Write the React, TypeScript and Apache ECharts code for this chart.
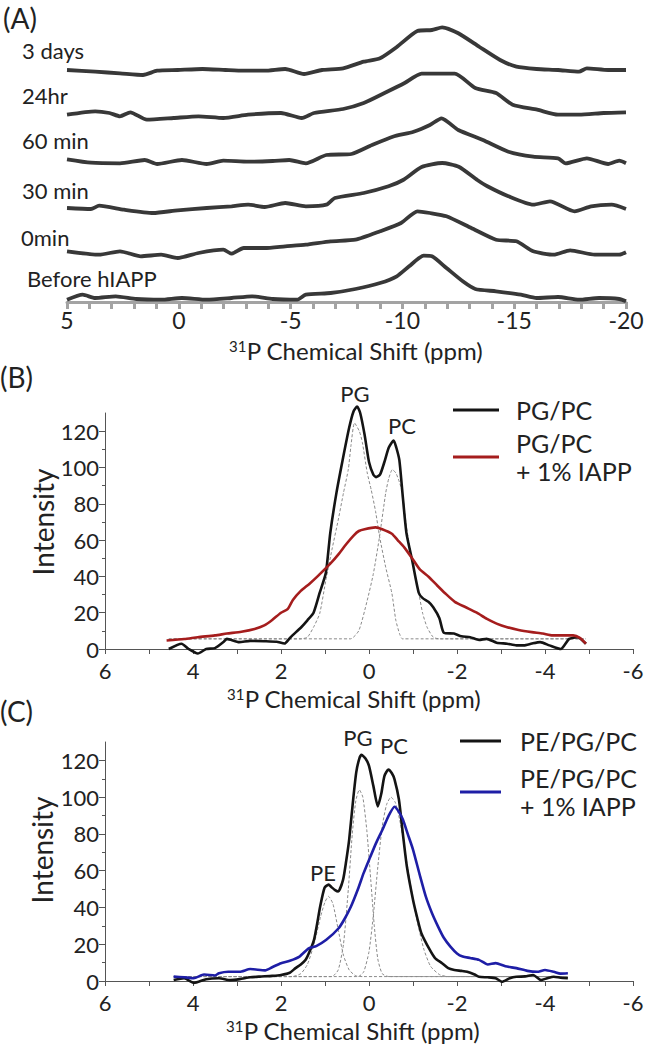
import React, { useEffect, useRef } from 'react';
import * as echarts from 'echarts';

const FONT = 'Lato, "Open Sans", sans-serif';
const TXT = '#222';

// ---------- Panel A: stacked 31P spectra (ppm, intensity above own baseline) ----------
const stackLabels = ['3 days', '24hr', '60 min', '30 min', '0min', 'Before hIAPP'];
const stackOffsets = [232, 189, 142, 94, 49, 4];
const panelATickLabels = [5, 0, -5, -10, -15, -20];

const trace3days = [[5, 0], [3.74, -1.7], [2.63, -3.3], [1.6, -5], [0.97, -0.7], [0.05, 0], [-1.06, 1], [-2.08, 0], [-2.9, -0.7], [-3.84, -0.7], [-4.76, 1], [-5.6, -4], [-6.4, 0], [-7.35, 1.7], [-8.27, 8.3], [-9.0, 11.7], [-9.75, 23], [-10.67, 39], [-11.32, 40], [-11.78, 42.7], [-12.5, 36.7], [-13.45, 23], [-14.37, 10], [-15.1, 3.3], [-16.0, 1], [-16.96, 0], [-17.9, -1.7], [-18.25, 1.7], [-19.2, 0], [-20, 0]];
const trace24hr = [[5, -1.7], [3.74, 1.7], [3.1, 0], [2.63, -3.3], [2.17, 0.7], [1.43, -6.7], [0.23, -5], [-0.88, -3.3], [-1.99, -5], [-3.1, -1.7], [-4.57, 0], [-5.5, -5], [-6.05, 0], [-7.35, 4], [-8.27, 10], [-9.2, 20], [-10.1, 30], [-10.86, 39.3], [-12.34, 39.3], [-13.26, 25], [-14.19, 20], [-14.93, 8.3], [-16.03, 3.3], [-16.96, -1.7], [-17.9, -1.7], [-19.0, 0], [-20, 0.7]];
const trace60min = [[5, 0.7], [3.93, -2.7], [2.63, -3.3], [1.52, 0], [0.97, -4], [-0.14, 0], [-1.25, -4], [-1.99, -0.7], [-3.1, -1.7], [-4.2, -1], [-4.94, 0], [-5.68, -3.3], [-6.6, 5], [-7.72, 6], [-8.64, 15], [-9.57, 23.3], [-10.5, 28.3], [-11.23, 35], [-11.75, 41.7], [-12.5, 30], [-13.6, 20], [-14.74, 8.3], [-15.85, 3.3], [-16.96, 1.7], [-17.3, -3.3], [-18.25, 1.7], [-19.2, -4], [-19.7, -0.7], [-20, -3.3]];
const trace30min = [[5, 0], [3.93, -1], [3.56, 2.3], [2.45, -1.7], [1.15, -5], [0.05, -2.3], [-1.25, 0], [-2.36, 1.7], [-3.1, 3.3], [-3.84, 1], [-4.76, 5], [-5.68, 1.7], [-6.6, 3.3], [-6.98, 10], [-8.27, 15], [-9.38, 21.7], [-10.03, 28], [-10.86, 41], [-11.78, 45], [-12.52, 41.3], [-13.35, 28], [-13.8, 21.7], [-14.74, 11.7], [-15.85, 3.3], [-16.6, 6.7], [-17.7, -3.3], [-18.44, 1.7], [-19.36, 3.3], [-20, -1]];
const trace0min = [[5, 1.7], [3.56, -1.7], [2.63, 1.7], [1.7, -3.3], [0.79, -1.7], [0.05, -5], [-0.88, 0], [-1.99, 3.3], [-2.36, -0.7], [-2.9, 5], [-3.84, 5], [-4.76, 6.7], [-5.68, 8.3], [-6.79, 11.7], [-7.9, 13.3], [-9.0, 21.7], [-9.94, 30], [-10.67, 41.7], [-11.23, 40], [-11.97, 36.7], [-13.08, 25], [-14.19, 13.3], [-15.1, 11.7], [-15.85, 1.7], [-16.77, -1.7], [-17.5, 2.7], [-18.6, -1.7], [-19.7, -1.7], [-20, 0.7]];
const traceBefore = [[5, -1.7], [4.3, 3.3], [3.74, 0], [2.82, 1.7], [1.9, -1], [0.79, -1.7], [-0.14, 0], [-1.25, -1.7], [-2.36, 0], [-3.28, 1.7], [-4.2, -1], [-5.3, -1.7], [-5.68, 3.3], [-6.79, 5], [-7.9, 9], [-9.0, 15], [-9.75, 21.7], [-10.3, 31.7], [-10.95, 42.3], [-11.32, 41.7], [-11.97, 30], [-12.7, 16.7], [-13.26, 9], [-14.19, 6.7], [-15.3, 3.3], [-16.0, 0], [-16.96, 1], [-17.9, -1.7], [-18.8, 0], [-19.7, -1], [-20, -3.3]];
const stackTraces = [trace3days, trace24hr, trace60min, trace30min, trace0min, traceBefore];

// ---------- Panel B: PG/PC ----------
const pgpcB = [[4.55, 0], [4.26, 2.9], [4.1, 0], [3.89, -2.5], [3.7, 0], [3.5, 0.5], [3.3, 4], [3.23, 5.6], [2.95, 3.8], [2.7, 4.5], [2.38, 4.3], [2.1, 4], [1.92, 3], [1.8, 6], [1.74, 7.5], [1.54, 12], [1.4, 15.8], [1.26, 20], [1.12, 31], [0.98, 42], [0.88, 64], [0.74, 86], [0.6, 104], [0.45, 122], [0.35, 131], [0.27, 133.5], [0.2, 130], [0.1, 118], [0.0, 103], [-0.1, 96], [-0.16, 94.7], [-0.25, 96], [-0.35, 103], [-0.45, 111], [-0.56, 114.8], [-0.62, 111], [-0.69, 104], [-0.76, 86], [-0.85, 64], [-0.98, 49], [-1.13, 31], [-1.22, 28], [-1.35, 26], [-1.46, 23], [-1.6, 17], [-1.7, 9], [-1.93, 8.5], [-2.1, 7], [-2.3, 6.5], [-2.5, 5], [-2.67, 5.6], [-2.9, 3.5], [-3.14, 2.9], [-3.35, 2], [-3.52, 2], [-3.7, 3], [-3.89, 3.8], [-4.1, 2], [-4.36, 0], [-4.55, 5.6], [-4.74, 6.5], [-4.93, 2.9]];
const pgpcIappB = [[4.6, 4.7], [4.2, 5.5], [3.89, 6.5], [3.5, 7.5], [3.23, 8.5], [2.9, 9.5], [2.6, 11], [2.38, 13], [2.2, 16], [2.0, 20], [1.85, 22], [1.73, 27], [1.55, 32], [1.35, 36], [1.17, 40], [0.88, 47], [0.7, 52], [0.51, 58], [0.35, 62.5], [0.23, 65], [0.1, 66], [-0.15, 67], [-0.3, 66], [-0.52, 63.5], [-0.65, 60], [-0.8, 56], [-0.98, 50], [-1.15, 44], [-1.36, 39.7], [-1.55, 35], [-1.73, 30.7], [-1.95, 26], [-2.2, 23], [-2.45, 20], [-2.67, 16.7], [-2.9, 14], [-3.14, 12], [-3.4, 10.5], [-3.7, 9.3], [-3.95, 8.5], [-4.17, 7.5], [-4.4, 7.5], [-4.64, 7.5], [-4.8, 6], [-4.93, 2.9]];
const pgFitB = [[4.55, 5.6], [1.55, 5.6], [1.4, 6.5], [1.26, 12], [1.12, 19.6], [0.98, 38], [0.84, 55], [0.7, 71], [0.58, 86], [0.47, 99], [0.41, 112], [0.33, 124.5], [0.22, 120], [0.15, 113.7], [0.04, 97], [-0.05, 87.7], [-0.15, 75.7], [-0.24, 62], [-0.38, 45], [-0.52, 30.7], [-0.61, 15.8], [-0.7, 8], [-0.76, 5.6], [-4.93, 5.6]];
const pcFitB = [[4.55, 5.6], [0.42, 5.6], [0.23, 10.2], [0.04, 26.8], [-0.1, 41.6], [-0.24, 62], [-0.38, 86], [-0.45, 94], [-0.53, 98.8], [-0.61, 97], [-0.69, 92], [-0.76, 86], [-0.85, 67.4], [-0.98, 49], [-1.13, 31], [-1.22, 19.6], [-1.32, 12], [-1.46, 6.5], [-1.6, 5.6], [-4.93, 5.6]];

// ---------- Panel C: PE/PG/PC ----------
const pepgpcC = [[4.44, 0.5], [4.2, 1.5], [3.98, -1], [3.7, 1], [3.41, 1.5], [3.15, 0.5], [2.94, 1], [2.7, 2], [2.48, 2.4], [2.2, 2.8], [2.0, 3.3], [1.8, 4.5], [1.67, 7], [1.55, 9], [1.44, 11.5], [1.35, 16], [1.25, 22.4], [1.18, 31], [1.11, 40.5], [1.01, 50.7], [0.92, 52.4], [0.85, 51], [0.78, 49.6], [0.7, 48.7], [0.59, 55], [0.52, 65], [0.45, 77], [0.36, 98.7], [0.29, 113.5], [0.22, 121], [0.17, 123], [0.08, 121], [0.0, 117], [-0.1, 106], [-0.2, 95], [-0.28, 102], [-0.35, 111.5], [-0.44, 115], [-0.52, 113], [-0.58, 109.7], [-0.68, 98.7], [-0.77, 80], [-0.86, 62.4], [-1.0, 44.2], [-1.1, 34], [-1.19, 26], [-1.38, 17], [-1.5, 12.5], [-1.66, 9.7], [-1.8, 7], [-1.94, 6], [-2.1, 5.5], [-2.23, 5], [-2.4, 3.5], [-2.5, 2.3], [-2.7, 2], [-2.88, 1.5], [-3.02, -0.4], [-3.2, 1.5], [-3.35, 2.3], [-3.55, 2.5], [-3.73, 3.3], [-3.91, 0.5], [-4.05, 1.5], [-4.2, 2.3], [-4.35, 1.8], [-4.52, 1.5]];
const pepgpcIappC = [[4.44, 2.4], [4.2, 2], [3.98, 1.5], [3.75, 3.5], [3.5, 3], [3.41, 4.2], [3.2, 5], [2.94, 5], [2.7, 6.5], [2.36, 5.8], [2.2, 7.5], [2.0, 9.7], [1.8, 11], [1.58, 13.3], [1.37, 17.8], [1.2, 19], [0.97, 22.4], [0.69, 28.7], [0.55, 34], [0.41, 40.5], [0.25, 50], [0.12, 58.8], [-0.02, 67], [-0.16, 75], [-0.3, 82], [-0.44, 89.6], [-0.58, 94.8], [-0.68, 92], [-0.77, 87.8], [-0.88, 80], [-1.0, 71.5], [-1.15, 58], [-1.29, 46], [-1.43, 37], [-1.57, 29.6], [-1.7, 23.5], [-1.85, 18.7], [-2.0, 15], [-2.13, 13.3], [-2.3, 12.5], [-2.5, 11.5], [-2.7, 9], [-2.88, 9.7], [-3.1, 8], [-3.35, 7], [-3.6, 5.5], [-3.82, 5], [-4.0, 6], [-4.2, 5], [-4.35, 4], [-4.52, 4.2]];
const peFitC = [[4.44, 2.4], [1.75, 2.4], [1.55, 4], [1.4, 9], [1.25, 20], [1.1, 35], [1.0, 43], [0.92, 46], [0.82, 42], [0.7, 28], [0.58, 14], [0.45, 6], [0.3, 2.8], [0.15, 2.4], [-4.52, 2.4]];
const pgFitC = [[4.44, 2.4], [0.85, 2.4], [0.7, 6], [0.58, 20], [0.47, 50], [0.38, 80], [0.3, 98], [0.22, 104], [0.14, 100], [0.05, 82], [-0.04, 55], [-0.12, 30], [-0.2, 12], [-0.3, 4], [-0.45, 2.4], [-4.52, 2.4]];
const pcFitC = [[4.44, 2.4], [0.25, 2.4], [0.12, 5], [0.0, 16], [-0.1, 36], [-0.2, 62], [-0.3, 84], [-0.4, 96], [-0.5, 100], [-0.6, 97], [-0.72, 85], [-0.85, 66], [-0.98, 47], [-1.1, 32], [-1.25, 17], [-1.4, 8], [-1.6, 3.5], [-1.8, 2.4], [-4.52, 2.4]];

// ---------- axis ticks ----------
const ppmTicksBC = [6, 5, 4, 3, 2, 1, 0, -1, -2, -3, -4, -5, -6];
const ppmLabelsBC = [6, 4, 2, 0, -2, -4, -6];
const intensityLabels = [0, 20, 40, 60, 80, 100, 120];
const intensityMinor = [10, 30, 50, 70, 90, 110];
const panelATicks = [5, 4, 3, 2, 1, 0, -1, -2, -3, -4, -5, -6, -7, -8, -9, -10, -11, -12, -13, -14, -15, -16, -17, -18, -19, -20];

function titleText(x: number, y: number) {
  return {
    type: 'text', x, y,
    style: {
      text: '{s|31}{m|P Chemical Shift (ppm)}',
      rich: {
        s: { fontSize: 15, fontFamily: FONT, fill: TXT, verticalAlign: 'top' },
        m: { fontSize: 24, fontFamily: FONT, fill: TXT },
      },
      align: 'center', verticalAlign: 'middle', fill: TXT,
    },
  };
}
function plainText(text: string, x: number, y: number, size: number, align = 'left', rotation = 0) {
  return {
    type: 'text', x, y, rotation,
    style: { text, fontSize: size, fontFamily: FONT, fill: TXT, align, verticalAlign: 'middle' },
  };
}

function bcXAxis(gridIndex: number) {
  return {
    type: 'value', gridIndex, min: -6, max: 6, inverse: true,
    axisLine: { show: true, onZero: false, lineStyle: { color: '#555', width: 1 } },
    axisTick: { show: true, length: 5, customValues: ppmTicksBC, lineStyle: { color: '#555' } },
    axisLabel: { customValues: ppmLabelsBC, fontSize: 22, fontFamily: FONT, color: TXT, margin: 10 },
    splitLine: { show: false },
  };
}
function bcYAxes(gridIndex: number) {
  return [
    {
      type: 'value', gridIndex, min: 0, max: 130, position: 'left',
      axisLine: { show: true, onZero: false, lineStyle: { color: '#555', width: 1 } },
      axisTick: { show: true, length: 6, customValues: intensityLabels, lineStyle: { color: '#555' } },
      axisLabel: { customValues: intensityLabels, fontSize: 22, fontFamily: FONT, color: TXT, margin: 6 },
      splitLine: { show: false },
    },
    {
      type: 'value', gridIndex, min: 0, max: 130, position: 'left', offset: 0,
      axisLine: { show: false, onZero: false },
      axisTick: { show: true, length: 3, customValues: intensityMinor, lineStyle: { color: '#555' } },
      axisLabel: { show: false },
      splitLine: { show: false },
    },
  ];
}
function line(name: string, data: number[][], xi: number, yi: number, color: string, width: number, extra: any = {}) {
  return {
    type: 'line', name, data, xAxisIndex: xi, yAxisIndex: yi, showSymbol: false, symbol: 'none',
    clip: false, smooth: 0.2, color, lineStyle: { color, width, ...extra }, silent: true, z: 3,
  };
}

export default function App() {
  const ref = useRef<HTMLDivElement>(null);
  useEffect(() => {
    if (!ref.current) return;
    const chart = echarts.init(ref.current, undefined, { renderer: 'svg' });

    const seriesA = stackTraces.map((tr, i) =>
      line(stackLabels[i], tr.map(([x, y]) => [x, y + stackOffsets[i]]), 0, 0, '#383838', 3.8)
    );
    const legendText = { fontSize: 25, lineHeight: 28, fontFamily: FONT, color: TXT };

    const option: any = {
      animation: false,
      backgroundColor: '#fff',
      grid: [
        { left: 67, right: 22, top: 22, bottom: 748 },
        { left: 105, right: 15, top: 413, bottom: 401 },
        { left: 105, right: 15, top: 742, bottom: 69 },
      ],
      xAxis: [
        {
          type: 'value', gridIndex: 0, min: -20, max: 5, inverse: true,
          axisLine: { show: true, onZero: false, lineStyle: { color: '#a3a3a3', width: 3 } },
          axisTick: { show: true, length: 7, customValues: panelATicks, lineStyle: { color: '#a3a3a3', width: 3 } },
          axisLabel: { customValues: panelATickLabels, fontSize: 23, fontFamily: FONT, color: TXT, margin: 6 },
          splitLine: { show: false },
        },
        bcXAxis(1),
        bcXAxis(2),
      ],
      yAxis: [
        { type: 'value', gridIndex: 0, min: 0, max: 280, show: false },
        ...bcYAxes(1),
        ...bcYAxes(2),
      ],
      legend: [
        {
          orient: 'vertical', left: 448, top: 391, itemGap: 1, itemWidth: 46, itemHeight: 3, icon: 'rect',
          selectedMode: false,
          data: [
            { name: 'PG/PC', textStyle: { ...legendText, padding: [0, 0, 0, 12] } },
            { name: 'PG/PC\n+ 1% IAPP', textStyle: { ...legendText, padding: [8, 0, 0, 12] } },
          ],
          textStyle: legendText,
        },
        {
          orient: 'vertical', left: 455, top: 722, itemGap: 1, itemWidth: 41, itemHeight: 3, icon: 'rect',
          selectedMode: false,
          data: [
            { name: 'PE/PG/PC', textStyle: { ...legendText, padding: [0, 0, 0, 14] } },
            { name: 'PE/PG/PC\n+ 1% IAPP', textStyle: { ...legendText, lineHeight: 28, padding: [16, 0, 0, 14] } },
          ],
          textStyle: legendText,
        },
      ],
      series: [
        ...seriesA,
        line('PG fit B', pgFitB, 1, 1, '#8a8a8a', 1, { type: [3, 2] }),
        line('PC fit B', pcFitB, 1, 1, '#8a8a8a', 1, { type: [3, 2] }),
        line('PG/PC', pgpcB, 1, 1, '#141414', 2.6),
        line('PG/PC\n+ 1% IAPP', pgpcIappB, 1, 1, '#a51d1d', 2.6),
        line('PE fit C', peFitC, 2, 3, '#8a8a8a', 1, { type: [3, 2] }),
        line('PG fit C', pgFitC, 2, 3, '#8a8a8a', 1, { type: [3, 2] }),
        line('PC fit C', pcFitC, 2, 3, '#8a8a8a', 1, { type: [3, 2] }),
        line('PE/PG/PC', pepgpcC, 2, 3, '#141414', 2.6),
        line('PE/PG/PC\n+ 1% IAPP', pepgpcIappC, 2, 3, '#1e1ea6', 2.6),
      ],
      graphic: [
        plainText('(A)', 3, 18, 28),
        plainText('(B)', 0, 377, 28),
        plainText('(C)', 0, 711, 28),
        plainText(stackLabels[0], 22, 50, 22),
        plainText(stackLabels[1], 22, 95, 22),
        plainText(stackLabels[2], 22, 140, 22),
        plainText(stackLabels[3], 22, 190, 22),
        plainText(stackLabels[4], 21, 237, 22),
        plainText(stackLabels[5], 27, 278, 22),
        titleText(356, 350),
        titleText(354, 698),
        titleText(353, 1030),
        plainText('Intensity', 43, 522, 28, 'center', Math.PI / 2),
        plainText('Intensity', 42, 850, 28, 'center', Math.PI / 2),
        plainText('PG', 355, 393, 22, 'center'),
        plainText('PC', 402, 425, 22, 'center'),
        plainText('PG', 358, 737, 22, 'center'),
        plainText('PC', 394, 745, 22, 'center'),
        plainText('PE', 323, 872, 22, 'center'),
      ],
    };
    chart.setOption(option);
    return () => chart.dispose();
  }, []);
  return <div ref={ref} style={{ position: 'absolute', left: 0, top: 0, width: 648, height: 1050 }} />;
}
